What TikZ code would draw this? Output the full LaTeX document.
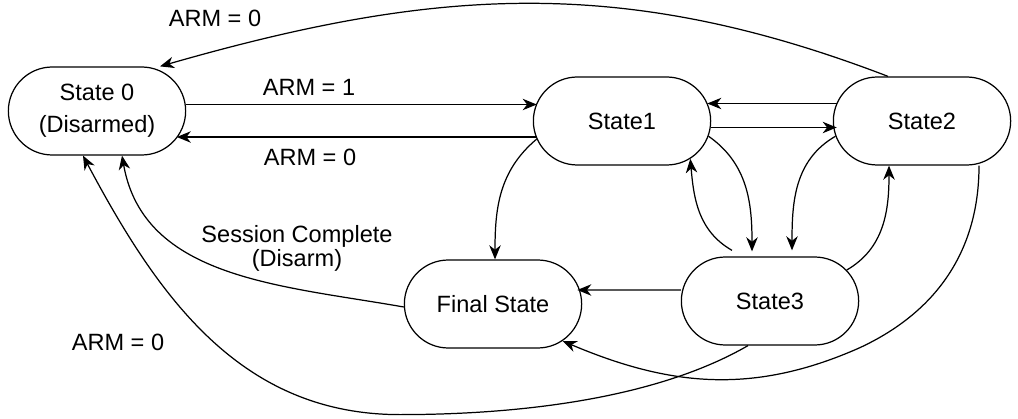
\documentclass[tikz,border=0pt]{standalone}
\usepackage{fontspec}
\setmainfont{Liberation Sans}
\usetikzlibrary{positioning}
\usetikzlibrary{shapes, arrows.meta}
\tikzstyle{state} = [rounded rectangle, draw, fill=white, line width=0.7pt,
                     minimum width=3.78cm, minimum height=1.76cm, align=center]
\tikzstyle{lbl}   = [align=center, inner sep=0pt]
\tikzstyle{arrow} = [line width=0.7pt, ->, >={Stealth[length=8pt, width=6.5pt, inset=2.5pt]}]

\begin{document}
\begin{tikzpicture}[on grid, font=\fontsize{13.4pt}{16pt}\selectfont]
\useasboundingbox (0,0) rectangle (20.36,-8.38);
\node (s0) [state] at (1.94,-2.22) {State 0\\[2.2pt](Disarmed)};
\node (s1) [state, right=10.5cm of s0, yshift=-0.2cm] {State1};
\node (s2) [state, right=6cm of s1] {State2};
\node (s3) [state, below left=3.6cm and 3.04cm of s2] {State3};
\node (fin) [state, left=5.54cm of s3, yshift=-0.06cm] {Final State};
% transition labels
\node (arm one) [lbl] at (6.18,-1.74) {ARM = 1};
\node (arm back) [lbl] at (6.20,-3.14) {ARM = 0};
\node (arm top) [lbl] at (4.30,-0.36) {ARM = 0};
\node (arm bottom) [lbl] at (2.36,-6.84) {ARM = 0};
\node (session) [lbl] at (5.94,-4.97) {Session Complete\\[-2.4pt](Disarm)};
% transitions
\draw [arrow] ([yshift=0.13cm]s0.east) -- ([xshift=0.08cm, yshift=0.33cm]s1.west);
\draw [arrow] ([xshift=0.06cm, yshift=-0.32cm]s1.west) -- ([xshift=-0.19cm, yshift=-0.52cm]s0.east);
\draw [arrow] ([xshift=-0.68cm]s2.north) to[out=159, in=16] ([xshift=1.26cm]s0.north);
\draw [arrow] ([xshift=0.08cm, yshift=0.35cm]s2.west) -- ([xshift=-0.08cm, yshift=0.35cm]s1.east);
\draw [arrow] ([yshift=-0.13cm]s1.east) -- ([xshift=0.08cm, yshift=-0.13cm]s2.west);
\draw [arrow] (s1.192) to[out=220, in=90] ([xshift=0.04cm]fin.north);
\draw [arrow] (s1.-10) to[out=-35, in=90] ([xshift=-0.36cm, yshift=0.1cm]s3.north);
\draw [arrow] ([xshift=-0.76cm, yshift=0.12cm]s3.north) to[out=150, in=-85] (s1.-29);
\draw [arrow] (s2.190) to[out=210, in=90] ([xshift=0.44cm, yshift=0.12cm]s3.north);
\draw [arrow] (s3.22) to[out=30, in=-90] ([xshift=-0.66cm]s2.south);
\draw [arrow] ([yshift=0.22cm]s3.west) -- ([xshift=-0.1cm, yshift=0.28cm]fin.east);
\draw [arrow] ([xshift=1.14cm]s2.south) to[out=-90, in=25] ++(-2.38,-3.64)
              to[out=204, in=-23] (fin.-28);
\draw [arrow] ([xshift=-0.44cm]s3.south) to[out=210, in=0, looseness=0.8] ++(-6.96,-1.38)
              to[out=180, in=-62] ([xshift=-0.28cm]s0.south);
\draw [arrow] ([yshift=-0.06cm]fin.west) to[out=170, in=-80] ([xshift=0.5cm]s0.south);
\end{tikzpicture}
\end{document}
